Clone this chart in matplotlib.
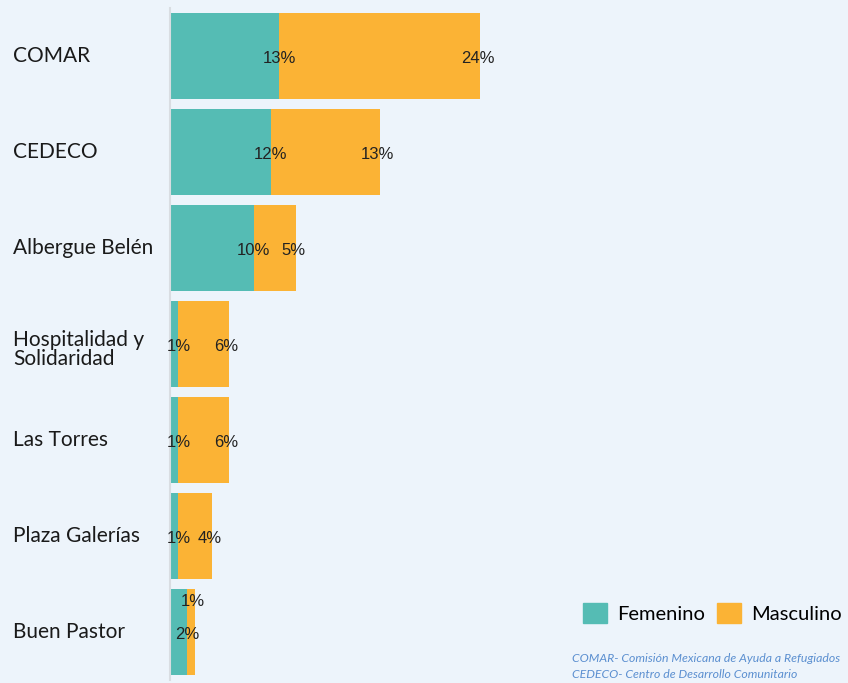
import matplotlib.pyplot as plt
from matplotlib.patches import Patch

# datos
centros = ["COMAR", "CEDECO", "Albergue Belén", "Hospitalidad y\nSolidaridad",
           "Las Torres", "Plaza Galerías", "Buen Pastor"]
femenino = [13, 12, 10, 1, 1, 1, 2]
masculino = [24, 13, 5, 6, 6, 4, 1]

nota = ["COMAR- Comisión Mexicana de Ayuda a Refugiados",
        "CEDECO- Centro de Desarrollo Comunitario"]

col_fem = "#55bcb4"
col_masc = "#fbb335"
fondo = "#edf4fb"

fig = plt.figure(figsize=(8.48, 6.83), dpi=100, facecolor=fondo)
ax = fig.add_axes([170 / 848, 3 / 683, 678 / 848, 672 / 683], facecolor=fondo)

y = list(range(len(centros)))
ax.barh(y, femenino, height=0.9, color=col_fem)
ax.barh(y, masculino, left=femenino, height=0.9, color=col_masc)

# etiquetas de porcentaje al final de cada tramo
for i in y:
    f = femenino[i]
    m = masculino[i]
    ax.text(f, i + 0.03, f"{f}%", ha="center", va="center", fontsize=12,
            family="Liberation Sans", color="#222222")
    dy = -0.32 if m < 2 else 0.03
    ax.text(f + m - 0.3, i + dy, f"{m}%", ha="center", va="center", fontsize=12,
            family="Liberation Sans", color="#222222")

ax.set_xlim(0, 678 / 8.38)
ax.set_ylim(len(centros) - 0.5, -0.5)
ax.set_xticks([])
ax.set_yticks([])
for s in ["top", "right", "bottom"]:
    ax.spines[s].set_visible(False)
ax.spines["left"].set_color("#d9dde2")
ax.spines["left"].set_linewidth(1.5)

# nombres de los centros
for i, nombre in enumerate(centros):
    off = 0.06 if "\n" in nombre else 0
    ax.text(-157 / 8.38, i + off, nombre, ha="left", va="center", fontsize=15,
            family="Lato", color="#1a1a1a", linespacing=0.95)

# leyenda
handles = [Patch(color=col_fem, label="Femenino"),
           Patch(color=col_masc, label="Masculino")]
fig.legend(handles=handles, loc="center left", bbox_to_anchor=(565 / 848, 1 - 613 / 683),
           ncol=2, frameon=False, prop={"family": "Lato", "size": 14.5},
           handlelength=1.2, handleheight=1.2, handletextpad=0.5, columnspacing=0.6)

fig.text(572 / 848, 1 - 658 / 683, nota[0], ha="left", va="center", fontsize=8.8,
         family="Lato", style="italic", color="#5b8fd0")
fig.text(572 / 848, 1 - 675 / 683, nota[1], ha="left", va="center", fontsize=8.8,
         family="Lato", style="italic", color="#5b8fd0")

fig.savefig("out.png", dpi=100, facecolor=fondo)
